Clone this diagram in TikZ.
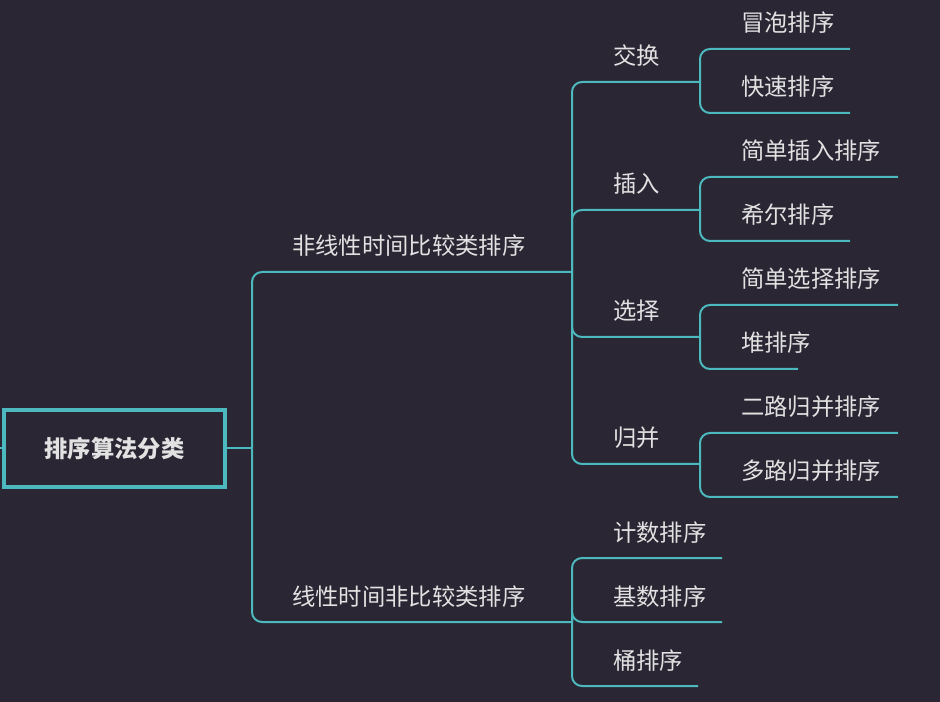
\documentclass[tikz,border=0pt]{standalone}
\usepackage{fontspec}
\setmainfont{Noto Sans CJK SC}
\usepackage{tikz}
\definecolor{bgdark}{HTML}{2A2633}
\definecolor{linkteal}{HTML}{4CB9BE}
\definecolor{txtgray}{HTML}{E2E2E2}
\tikzset{
  link/.style={linkteal, line width=1.5pt, rounded corners=7.5pt},
  lbl/.style={anchor=west, inner sep=0pt, text=txtgray, font=\fontsize{17.5}{20}\selectfont},
  rootbox/.style={draw=linkteal, line width=3pt, minimum width=166pt, minimum height=58pt,
    text=txtgray, font=\fontsize{17.5}{20}\selectfont\bfseries}
}
\begin{document}
\begin{tikzpicture}[x=0.75pt,y=-0.75pt]
\useasboundingbox[fill=bgdark] (0,0) rectangle (940,702);

% root
\node[rootbox] (root) at (114.5,448.5) {排序算法分类};
\coordinate (rin) at (0,448.5);
\draw[link] (rin) -- (root.west);
\coordinate (jroot) at (252,448.5);
\draw[link] (root.east) -- (jroot);

% first level
\coordinate (jnon) at (572,272);
\coordinate (jlin) at (572,622);
\draw[link] (jroot) |- (jnon);
\draw[link] (jroot) |- (jlin);
\node[lbl] (non) at (292,246) {非线性时间比较类排序};
\node[lbl] (lin) at (292,597) {线性时间非比较类排序};

% second level
\foreach \nm/\y/\t in {swap/82/交换, ins/210/插入, sel/337/选择, mrg/464/归并} {
  \coordinate (j\nm) at (700,\y);
  \draw[link] (jnon) |- (j\nm);
  \node[lbl] (\nm) at (613,\y-26) {\t};
}

% third level
\foreach \p/\y/\ex/\t in {swap/49/850/冒泡排序, swap/113/850/快速排序,
    ins/177/898/简单插入排序, ins/241/850/希尔排序,
    sel/305/898/简单选择排序, sel/369/798/堆排序,
    mrg/433/898/二路归并排序, mrg/497/898/多路归并排序} {
  \coordinate (e\y) at (\ex,\y);
  \draw[link] (j\p) |- (e\y);
  \node[lbl] (t\y) at (741,\y-26) {\t};
}

% linear leaves
\foreach \y/\ex/\t in {558/722/计数排序, 622/722/基数排序, 686/698/桶排序} {
  \coordinate (e\y) at (\ex,\y);
  \draw[link] (jlin) |- (e\y);
  \node[lbl] (t\y) at (613,\y-25) {\t};
}
\end{tikzpicture}
\end{document}
